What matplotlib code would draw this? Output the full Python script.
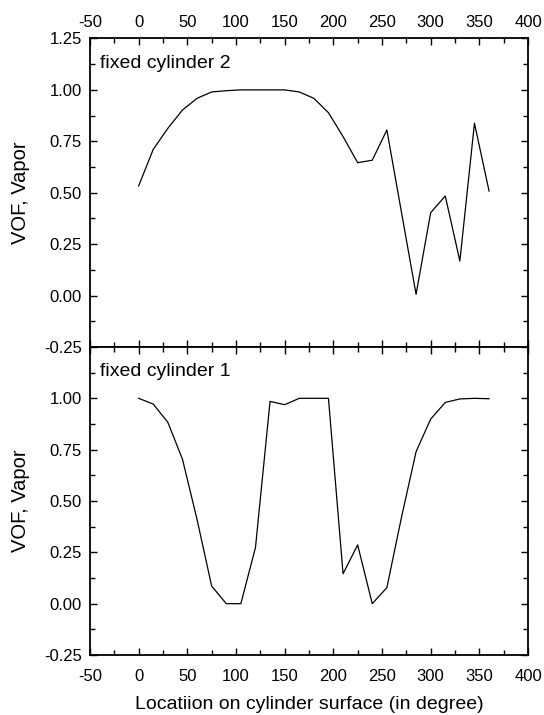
import matplotlib
matplotlib.use("Agg")
import matplotlib.pyplot as plt
from matplotlib.ticker import MultipleLocator, FuncFormatter

plt.rcParams['font.family'] = ['Liberation Sans', 'DejaVu Sans']
plt.rcParams['axes.unicode_minus'] = False

# angle on the cylinder surface (degree)
angle = [0, 15, 30, 45, 60, 75, 90, 105, 120, 135, 150, 165, 180,
         195, 210, 225, 240, 255, 270, 285, 300, 315, 330, 345, 360]

vof_cyl2 = [0.533, 0.711, 0.813, 0.902, 0.959, 0.99, 0.996, 1.0, 1.0, 1.0,
            1.0, 0.99, 0.959, 0.889, 0.773, 0.646, 0.658, 0.805, 0.405,
            0.006, 0.403, 0.484, 0.168, 0.838, 0.508]

vof_cyl1 = [1.0, 0.972, 0.883, 0.704, 0.41, 0.086, 0.0, 0.0, 0.273, 0.985,
            0.969, 1.0, 1.0, 1.0, 0.146, 0.286, 0.0, 0.078, 0.42, 0.74,
            0.899, 0.98, 0.997, 1.0, 0.998]

panels = [("fixed cylinder 2", vof_cyl2), ("fixed cylinder 1", vof_cyl1)]

fig = plt.figure(figsize=(5.44, 7.15), dpi=100)
ax_top = fig.add_axes([0.1654, 0.5147, 0.8052, 0.4315])
ax_bot = fig.add_axes([0.1654, 0.0839, 0.8052, 0.4308])

for ax, (name, vals) in zip([ax_top, ax_bot], panels):
    ax.plot(angle, vals, color='black', lw=0.9)
    ax.set_xlim(-50, 400)
    ax.set_ylim(-0.25, 1.25)
    ax.xaxis.set_major_locator(MultipleLocator(50))
    ax.xaxis.set_minor_locator(MultipleLocator(25))
    ax.yaxis.set_major_locator(MultipleLocator(0.25))
    ax.yaxis.set_minor_locator(MultipleLocator(0.125))
    ax.yaxis.set_major_formatter(plt.FormatStrFormatter('%.2f'))
    ax.tick_params(which='both', direction='in', top=True, right=True,
                   labelsize=12, width=1.0, pad=6)
    ax.tick_params(which='major', length=5)
    ax.tick_params(which='minor', length=3.5)
    for s in ax.spines.values():
        s.set_linewidth(1.3)
    ax.set_ylabel('VOF, Vapor', fontsize=14.5, labelpad=10)
    ax.text(0.022, 0.92, name, transform=ax.transAxes, fontsize=14,
            ha='left', va='center')

ax_top.tick_params(labelbottom=False, labeltop=True)
ax_bot.tick_params(axis='x', which='both', pad=10)
# the shared boundary only carries the top panel's -0.25 label
ax_bot.yaxis.set_major_formatter(
    FuncFormatter(lambda v, p: '' if v > 1.2 else '%.2f' % v))
ax_bot.set_xlabel('Locatiion on cylinder surface (in degree)', fontsize=14,
                  labelpad=9)

fig.savefig('out.png', dpi=100)
